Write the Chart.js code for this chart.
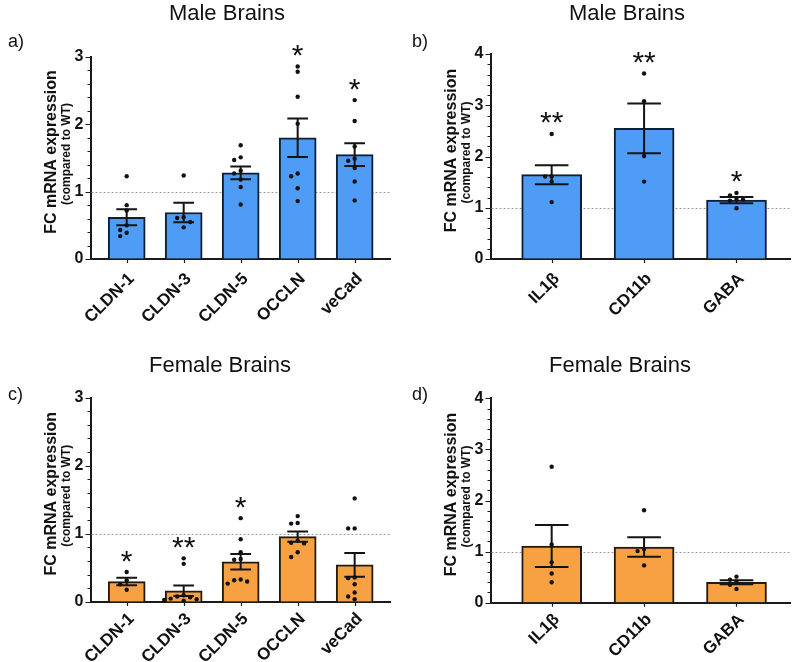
<!DOCTYPE html>
<html>
<head>
<meta charset="utf-8">
<script src="https://cdn.jsdelivr.net/npm/chart.js@4.4.1/dist/chart.umd.min.js"></script>
<style>
  html, body { margin: 0; padding: 0; background: #fff; }
  #wrap { position: relative; width: 800px; height: 662px; }
  canvas { position: absolute; }
</style>
</head>
<body>
<div id="wrap">
  <canvas id="chartA" width="400" height="331" style="left:0;top:0"></canvas>
  <canvas id="chartB" width="400" height="331" style="left:400px;top:0"></canvas>
  <canvas id="chartC" width="400" height="331" style="left:0;top:331px"></canvas>
  <canvas id="chartD" width="400" height="331" style="left:400px;top:331px"></canvas>
</div>
<script>
// categories
const junctionGenes = ['CLDN-1', 'CLDN-3', 'CLDN-5', 'OCCLN', 'veCad'];
const immuneGenes = ['IL1β', 'CD11b', 'GABA'];

// a) male, junction genes
const maleJunctionMean = [0.62, 0.69, 1.28, 1.80, 1.55];
const maleJunctionSem = [0.12, 0.145, 0.095, 0.285, 0.17];
const maleJunctionPoints = [
  [1.23, 0.80, 0.72, 0.50, 0.43, 0.39, 0.34],
  [1.24, 0.62, 0.61, 0.55, 0.47],
  [1.69, 1.51, 1.47, 1.31, 1.27, 1.18, 1.07, 0.81],
  [2.86, 2.78, 2.41, 2.01, 1.27, 1.23, 1.05, 0.86],
  [2.36, 2.05, 1.67, 1.49, 1.46, 1.35, 1.15, 0.87]
];
const maleJunctionStars = ['', '', '', '*', '*'];

// b) male, immune genes
const maleImmuneMean = [1.645, 2.55, 1.15];
const maleImmuneSem = [0.185, 0.485, 0.06];
const maleImmunePoints = [
  [2.44, 1.61, 1.61, 1.51, 1.11],
  [3.62, 3.08, 2.01, 1.51],
  [1.29, 1.24, 1.17, 1.16, 1.14, 0.99]
];
const maleImmuneStars = ['**', '**', '*'];

// c) female, junction genes
const femaleJunctionMean = [0.30, 0.165, 0.59, 0.96, 0.545];
const femaleJunctionSem = [0.055, 0.078, 0.115, 0.075, 0.175];
const femaleJunctionPoints = [
  [0.44, 0.32, 0.26, 0.18],
  [0.64, 0.56, 0.10, 0.08, 0.07, 0.05, 0.04, 0.03, 0.02],
  [1.23, 0.92, 0.73, 0.63, 0.62, 0.33, 0.32, 0.30, 0.27],
  [1.26, 1.16, 1.15, 0.90, 0.87, 0.86, 0.73, 0.66],
  [1.52, 1.08, 1.08, 0.36, 0.35, 0.26, 0.14, 0.08, 0.04]
];
const femaleJunctionStars = ['*', '**', '*', '', ''];

// d) female, immune genes
const femaleImmuneMean = [1.11, 1.09, 0.40];
const femaleImmuneSem = [0.41, 0.19, 0.04];
const femaleImmunePoints = [
  [2.66, 1.14, 0.79, 0.57, 0.40],
  [1.81, 1.05, 1.01, 0.73],
  [0.51, 0.45, 0.41, 0.35, 0.27]
];
const femaleImmuneStars = ['', '', ''];

const FONT = "'Liberation Sans', Arial, sans-serif";
const AREA_LEFT = 90.5;
const AREA_RIGHT = 390;
const isWhole = v => Math.abs(v - Math.round(v)) < 1e-6;

// spread overlapping dots sideways, like a small beeswarm
function spreadPoints(points, pxPerY, pxPerX) {
  const out = [];
  const steps = [0, -1, 1, -2, 2, -3, 3];
  points.forEach((vals, i) => {
    const placed = [];
    vals.forEach(v => {
      const py = v * pxPerY;
      let dx = 0;
      for (const s of steps) {
        const cand = s * 6.5;
        if (placed.every(p => Math.abs(p.py - py) >= 5 || Math.abs(p.dx - cand) >= 6)) { dx = cand; break; }
      }
      placed.push({ py, dx });
      out.push({ x: i + dx / pxPerX, y: v });
    });
  });
  return out;
}

function makeDecor(cfg) {
  return {
    id: 'panelDecor',
    beforeDatasetsDraw(chart) {
      const { ctx, chartArea: a, scales: { y } } = chart;
      const py = Math.round(y.getPixelForValue(1)) + 0.5;
      ctx.save();
      ctx.setLineDash([2, 2]);
      ctx.strokeStyle = '#9a9a9a';
      ctx.lineWidth = 1;
      ctx.beginPath();
      ctx.moveTo(a.left + 1, py);
      ctx.lineTo(a.right, py);
      ctx.stroke();
      ctx.restore();
    },
    beforeDatasetDraw(chart, args) {
      if (args.index !== 1) return;
      const { ctx, scales: { x, y } } = chart;
      const cap = cfg.barWidth * 0.28;
      ctx.save();
      ctx.strokeStyle = '#141414';
      ctx.lineWidth = 2;
      cfg.mean.forEach((m, i) => {
        const px = x.getPixelForValue(i);
        const hi = y.getPixelForValue(m + cfg.sem[i]);
        const lo = y.getPixelForValue(m - cfg.sem[i]);
        ctx.beginPath();
        ctx.moveTo(px, hi); ctx.lineTo(px, lo);
        ctx.moveTo(px - cap, hi); ctx.lineTo(px + cap, hi);
        ctx.moveTo(px - cap, lo); ctx.lineTo(px + cap, lo);
        ctx.stroke();
      });
      ctx.restore();
    },
    afterDatasetsDraw(chart) {
      const { ctx, scales: { x, y } } = chart;
      ctx.save();
      ctx.fillStyle = '#111';
      ctx.font = '30px ' + FONT;
      ctx.textAlign = 'center';
      ctx.textBaseline = 'alphabetic';
      cfg.stars.forEach((s, i) => {
        if (!s) return;
        const top = Math.max(cfg.mean[i] + cfg.sem[i], ...cfg.points[i]);
        const cy = y.getPixelForValue(top) - 16;
        const m = ctx.measureText(s);
        const base = cy + (m.actualBoundingBoxAscent - m.actualBoundingBoxDescent) / 2;
        ctx.fillText(s, x.getPixelForValue(i), base);
      });
      ctx.restore();
    },
    afterDraw(chart) {
      const { ctx, chartArea: a, scales: { x, y } } = chart;
      ctx.save();
      // y minor / major ticks, x category ticks
      ctx.strokeStyle = '#1a1a1a';
      ctx.lineWidth = 1.2;
      ctx.beginPath();
      y.ticks.forEach(t => {
        const p = Math.round(y.getPixelForValue(t.value)) + 0.5;
        ctx.moveTo(a.left, p);
        ctx.lineTo(a.left - (isWhole(t.value) ? 5 : 3), p);
      });
      cfg.labels.forEach((_, i) => {
        const p = Math.round(x.getPixelForValue(i)) + 0.5;
        ctx.moveTo(p, a.bottom);
        ctx.lineTo(p, a.bottom + 4);
      });
      ctx.stroke();

      ctx.fillStyle = '#111';
      ctx.textBaseline = 'alphabetic';
      ctx.textAlign = 'center';
      ctx.font = '22px ' + FONT;
      ctx.fillText(cfg.title, cfg.titleX, cfg.titleY);
      ctx.textAlign = 'left';
      ctx.font = '18px ' + FONT;
      ctx.fillText(cfg.letter, cfg.letterX, cfg.letterY);

      const cy = (a.top + a.bottom) / 2 - 6;
      ctx.textAlign = 'center';
      ctx.textBaseline = 'middle';
      ctx.save();
      ctx.translate(51.7, cy);
      ctx.rotate(-Math.PI / 2);
      ctx.font = 'bold 16px ' + FONT;
      ctx.fillText('FC mRNA expression', 0, 0);
      ctx.restore();
      ctx.save();
      ctx.translate(66.7, cy + 2);
      ctx.rotate(-Math.PI / 2);
      ctx.font = 'bold 12px ' + FONT;
      ctx.fillText('(compared to WT)', 0, 0);
      ctx.restore();
      ctx.restore();
    }
  };
}

function makePanel(canvasId, cfg) {
  const pxPerY = (cfg.bottom - cfg.top) / cfg.yMax;
  const pxPerX = (AREA_RIGHT - AREA_LEFT) / (cfg.xMax - cfg.xMin);
  const labelShift = 5 / pxPerX; // rotated labels end a little right of the tick
  return new Chart(canvasId, {
    type: 'bar',
    data: {
      datasets: [{
        type: 'bar',
        data: cfg.mean.map((m, i) => ({ x: i, y: m })),
        backgroundColor: cfg.fill,
        borderColor: cfg.edge,
        borderWidth: 2,
        barThickness: cfg.barWidth,
        order: 2
      }, {
        type: 'scatter',
        data: spreadPoints(cfg.points, pxPerY, pxPerX),
        pointRadius: 2.2,
        pointBackgroundColor: '#111',
        pointBorderWidth: 0,
        clip: false,
        order: 1
      }]
    },
    options: {
      responsive: false,
      animation: false,
      layout: { padding: { left: 0, top: cfg.top, right: 400 - AREA_RIGHT, bottom: 0 } },
      plugins: { legend: { display: false }, tooltip: { enabled: false } },
      scales: {
        x: {
          type: 'linear',
          min: cfg.xMin,
          max: cfg.xMax,
          bounds: 'data',
          offset: false,
          border: { display: true, color: '#1a1a1a', width: 2 },
          grid: { display: true, offset: false, drawOnChartArea: false, drawTicks: false },
          ticks: {
            autoSkip: false,
            minRotation: 45,
            maxRotation: 45,
            padding: cfg.labelPad,
            color: '#111',
            font: { family: FONT, size: 17, weight: 'bold' },
            callback: v => cfg.labels[Math.round(v)] || ''
          },
          afterBuildTicks(s) { s.ticks = cfg.labels.map((_, i) => ({ value: i + labelShift })); },
          afterFit(s) { s.height = 331 - cfg.bottom; s.paddingLeft = 0; s.paddingRight = 0; }
        },
        y: {
          min: 0,
          max: cfg.yMax,
          border: { display: true, color: '#1a1a1a', width: 2 },
          grid: { display: true, drawOnChartArea: false, drawTicks: false },
          ticks: {
            stepSize: 0.2,
            autoSkip: false,
            padding: 7,
            color: '#111',
            font: { family: FONT, size: 16, weight: 'bold' },
            callback: v => isWhole(v) ? String(Math.round(v)) : ''
          },
          afterFit(s) { s.width = AREA_LEFT; s.paddingTop = 0; s.paddingBottom = 0; }
        }
      }
    },
    plugins: [makeDecor(cfg)]
  });
}

const BLUE = '#4f9cf6', BLUE_EDGE = '#0d1f33';
const ORANGE = '#f7a143', ORANGE_EDGE = '#231a10';

makePanel('chartA', {
  labels: junctionGenes, mean: maleJunctionMean, sem: maleJunctionSem,
  points: maleJunctionPoints, stars: maleJunctionStars,
  yMax: 3, top: 57, bottom: 259, xMin: -0.635, xMax: 4.62, barWidth: 37, labelPad: 10,
  fill: BLUE, edge: BLUE_EDGE,
  title: 'Male Brains', titleX: 227, titleY: 19.5, letter: 'a)', letterX: 8, letterY: 47
});
makePanel('chartB', {
  labels: immuneGenes, mean: maleImmuneMean, sem: maleImmuneSem,
  points: maleImmunePoints, stars: maleImmuneStars,
  yMax: 4, top: 54, bottom: 259, xMin: -0.662, xMax: 2.579, barWidth: 60, labelPad: 10,
  fill: BLUE, edge: BLUE_EDGE,
  title: 'Male Brains', titleX: 227, titleY: 19.5, letter: 'b)', letterX: 12, letterY: 47
});
makePanel('chartC', {
  labels: junctionGenes, mean: femaleJunctionMean, sem: femaleJunctionSem,
  points: femaleJunctionPoints, stars: femaleJunctionStars,
  yMax: 3, top: 66.5, bottom: 271, xMin: -0.635, xMax: 4.62, barWidth: 37, labelPad: 7,
  fill: ORANGE, edge: ORANGE_EDGE,
  title: 'Female Brains', titleX: 220, titleY: 40.5, letter: 'c)', letterX: 8, letterY: 69
});
makePanel('chartD', {
  labels: immuneGenes, mean: femaleImmuneMean, sem: femaleImmuneSem,
  points: femaleImmunePoints, stars: femaleImmuneStars,
  yMax: 4, top: 67.3, bottom: 271.7, xMin: -0.662, xMax: 2.579, barWidth: 60, labelPad: 7,
  fill: ORANGE, edge: ORANGE_EDGE,
  title: 'Female Brains', titleX: 220, titleY: 40.5, letter: 'd)', letterX: 12, letterY: 69
});
</script>
</body>
</html>
